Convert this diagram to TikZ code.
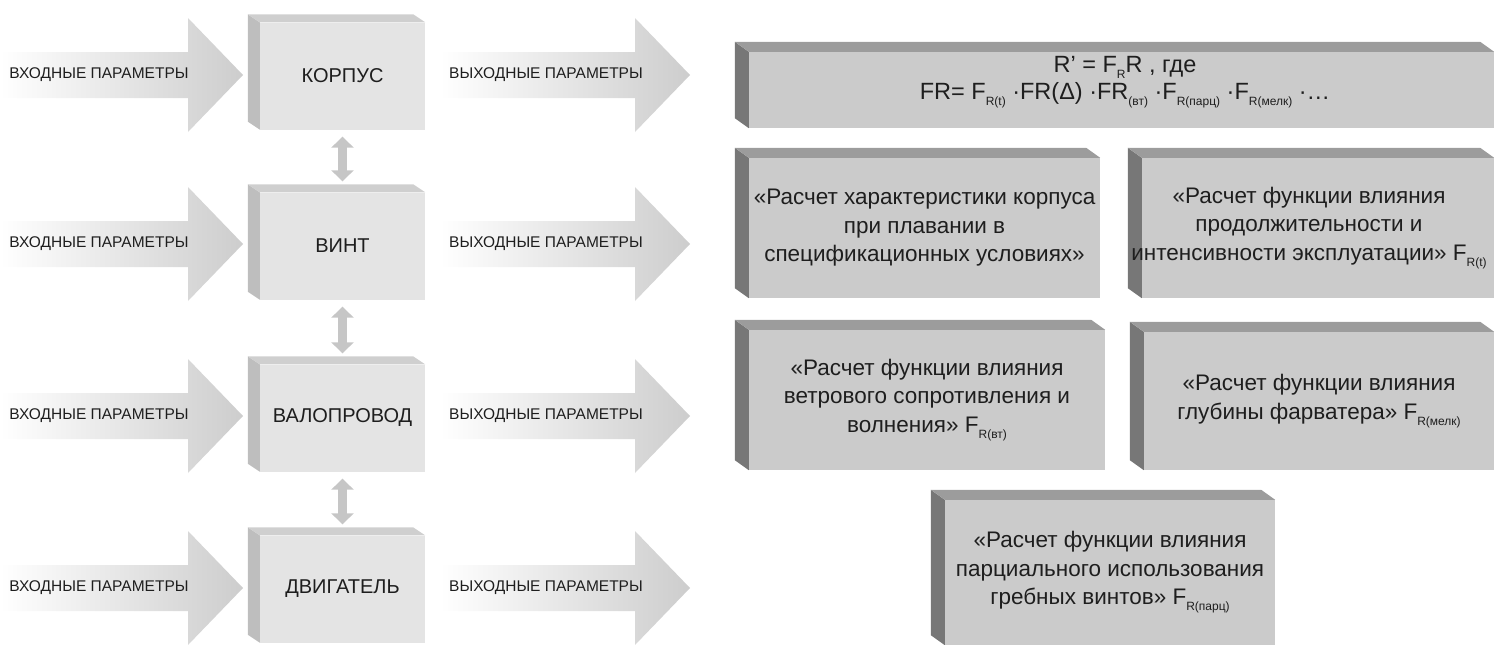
\documentclass[tikz,border=0pt]{standalone}
\usepackage{fontspec}
\setmainfont{Liberation Sans}
\usetikzlibrary{arrows.meta}
\definecolor{ink}{HTML}{1E1E1E}
\definecolor{lface}{HTML}{E4E4E4}
\definecolor{lside}{HTML}{BEBEBE}
\definecolor{ltop}{HTML}{CFCFCF}
\definecolor{rface}{HTML}{CBCBCB}
\definecolor{rside}{HTML}{777777}
\definecolor{rtop}{HTML}{9C9C9C}
\definecolor{arrgray}{HTML}{CDCDCD}
\definecolor{dblgray}{HTML}{C6C6C6}
\newcommand\lowsub[1]{\raisebox{-6pt}{\fontsize{12}{12}\selectfont #1}}
\begin{document}
\begin{tikzpicture}[x=1pt,y=-1pt,
lblock/.style={fill=lface,minimum width=165pt,minimum height=107pt,inner sep=0pt,text=ink,font=\fontsize{20}{24}\selectfont},
rblock/.style={fill=rface,inner sep=0pt,align=center,text=ink,font=\fontsize{22.5}{28.5}\selectfont},
plab/.style={text=ink,inner sep=0pt,font=\fontsize{15.5}{18}\selectfont},
dbl/.style={draw=dblgray,line width=9pt,{Triangle[width=22pt,length=11pt]}-{Triangle[width=22pt,length=11pt]},shorten <=7pt,shorten >=11pt}
]
\useasboundingbox (0,0) rectangle (1494,645);
% big arrows in / out
\foreach \yy/\n in {75/1,244/2,416/3,588/4} {
  \shade[left color=white,right color=arrgray] (0,\yy-23) -- (188,\yy-23) -- (188,\yy-57) -- (243,\yy) -- (188,\yy+57) -- (188,\yy+23) -- (0,\yy+23) -- cycle;
  \shade[left color=white,right color=arrgray] (440,\yy-23) -- (635,\yy-23) -- (635,\yy-57) -- (690,\yy) -- (635,\yy+57) -- (635,\yy+23) -- (440,\yy+23) -- cycle;
  \node[plab] (in\n) at (99,\yy) {ВХОДНЫЕ ПАРАМЕТРЫ};
  \node[plab] (out\n) at (546,\yy) {ВЫХОДНЫЕ ПАРАМЕТРЫ};
}
% ship parts
\node[lblock] (korp) at (342.5,76) {КОРПУС};
\node[lblock] (vint) at (342.5,246) {ВИНТ};
\node[lblock] (val) at (342.5,418) {ВАЛОПРОВОД};
\node[lblock] (dvig) at (342.5,589) {ДВИГАТЕЛЬ};
\foreach \n in {korp,vint,val,dvig} {
  \fill[lside] (\n.north west) -- ++(-12,-8) -- ([shift={(-12,-8)}]\n.south west) -- (\n.south west) -- cycle;
  \fill[ltop] (\n.north west) -- ++(-12,-8) -- ([shift={(-12,-8)}]\n.north east) -- (\n.north east) -- cycle;
}
\draw[dbl] (korp) -- (vint);
\draw[dbl] (vint) -- (val);
\draw[dbl] (val) -- (dvig);
% formula and calculations
\node[rblock,minimum width=745pt,minimum height=76pt] (form) at (1121.5,90) {};
\node[text=ink,inner sep=0pt,align=center,font=\fontsize{23.5}{27}\selectfont] (frm) at (1125,82)
  {R' = F\lowsub{R}R , где\\
   FR= F\lowsub{R(t)} ·FR(Δ) ·FR\lowsub{(вт)} ·F\lowsub{R(парц)} ·F\lowsub{R(мелк)} ·…};
\node[rblock,minimum width=351pt,minimum height=140pt] (r1) at (924.5,228)
  {«Расчет характеристики корпуса\\ при плавании в\\ спецификационных условиях»};
\node[rblock,minimum width=352pt,minimum height=140pt] (r2) at (1318,228) {};
\node[rblock,minimum width=356pt,minimum height=140pt] (r3) at (927,400)
  {«Расчет функции влияния\\ ветрового сопротивления и\\ волнения» F\lowsub{R(вт)}};
\node[rblock,minimum width=350pt,minimum height=138pt] (r4) at (1319,401)
  {«Расчет функции влияния\\ глубины фарватера» F\lowsub{R(мелк)}};
\node[rblock,minimum width=330pt,minimum height=145pt] (r5) at (1110,572.5)
  {«Расчет функции влияния\\ парциального использования\\ гребных винтов» F\lowsub{R(парц)}};
\foreach \n in {form,r1,r2,r3,r4,r5} {
  \fill[rside] (\n.north west) -- ++(-14,-10) -- ([shift={(-14,-10)}]\n.south west) -- (\n.south west) -- cycle;
  \fill[rtop] (\n.north west) -- ++(-14,-10) -- ([shift={(-14,-10)}]\n.north east) -- (\n.north east) -- cycle;
}
% text of r2 runs over its side face
\node[text=ink,inner sep=0pt,align=center,font=\fontsize{22.5}{28.5}\selectfont] (t2) at (1309,228)
  {«Расчет функции влияния\\ продолжительности и\\ интенсивности эксплуатации» F\lowsub{R(t)}};
\end{tikzpicture}
\end{document}
